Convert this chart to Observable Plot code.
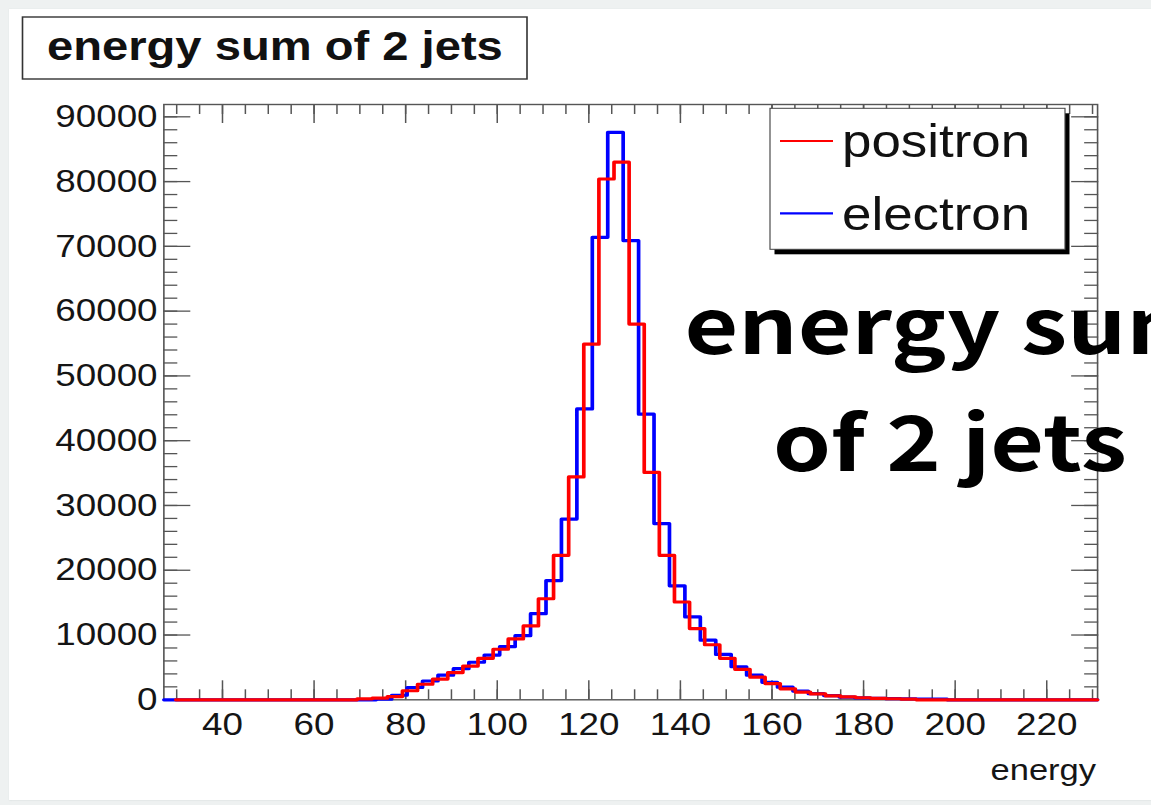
<!DOCTYPE html>
<html>
<head>
<meta charset="utf-8">
<script src="https://cdn.jsdelivr.net/npm/d3@7"></script>
<script src="https://cdn.jsdelivr.net/npm/@observablehq/plot@0.6"></script>
<style>
html, body { margin: 0; padding: 0; width: 1151px; height: 805px; overflow: hidden; background: #eef1f1; }
#panel { position: absolute; left: 9px; top: 9px; width: 1150px; height: 791px; background: #fff; box-shadow: 0 0 1.5px 0.5px #d2d8d8; }
#chart { position: absolute; left: 0; top: 0; }
#overlay { position: absolute; left: 550px; top: 263px; width: 800px; text-align: center; white-space: nowrap;
  font-family: "Noto Sans CJK JP", "Noto Sans", sans-serif; font-weight: 700; font-size: 76px; line-height: 117px; color: #000;
  transform: scaleX(1.22); transform-origin: 50% 0; }
</style>
</head>
<body>
<div id="panel"></div>
<div id="chart"></div>
<div id="overlay">energy sum<br>of 2 jets</div>
<script>
// ---------------- data ----------------
const titleText = "energy sum of 2 jets";
const xLabel = "energy";
const seriesNames = ["positron", "electron"];
const seriesColors = ["#ff0000", "#0000ff"];

// positron histogram: first bin low edge, bin width, bin contents
const positronStart = 29.8;
const positronWidth = 3.3;
const positronCounts = [
  0, 0, 0, 0, 0, 0, 0, 0, 0, 0, 0, 0,
  150, 250, 500, 1400, 2400, 3200, 4200, 5200, 6400, 7800, 9400, 11400,
  15600, 22300, 34400, 54900, 80400, 83000, 58000, 35100, 22300, 15100, 11000, 8500,
  6400, 4700, 3500, 2500, 1700, 1200, 900, 600, 450, 320, 220, 160, 100,
  0, 0, 0, 0, 0, 0, 0, 0, 0, 0, 0, 0
];

// electron histogram
const electronStart = 26.4;
const electronWidth = 3.37;
const electronCounts = [
  0, 0, 0, 0, 0, 0, 0, 0, 0, 0, 0, 0, 0, 0,
  100, 700, 1900, 2900, 3800, 4800, 5800, 6900, 8200, 9900, 13300, 18400,
  27900, 44900, 71400, 87600, 70900, 44100, 27200, 17600, 12800, 9200, 7000, 5100,
  3800, 2700, 1950, 1350, 950, 650, 420, 300, 230, 180, 140, 110, 90,
  0, 0, 0, 0, 0, 0, 0, 0, 0, 0
];

const xTicks = [40, 60, 80, 100, 120, 140, 160, 180, 200, 220];
const xMinorTicks = d3.range(30, 231, 5);
const yTicks = [0, 10000, 20000, 30000, 40000, 50000, 60000, 70000, 80000, 90000];
const yMinorTicks = d3.range(0, 90001, 2000);
const xDomain = [27.2, 231.1];
const yDomain = [0, 91900];

// ---------------- layout ----------------
const W = 1151, H = 805;
const S = 1.15;            // the original picture is stretched horizontally
const VW = W / S;
const frameL = 163.3, frameR = 1097, frameT = 104, frameB = 699.3;

function outline(start, width, counts) {
  const pts = counts.map((c, i) => ({x: start + i * width, y: c}));
  pts.push({x: start + counts.length * width, y: counts[counts.length - 1]});
  return pts;
}

const tickStyle = {fill: "none", stroke: "#555", strokeWidth: 1.3, label: null};

const fig = Plot.plot({
  width: VW,
  height: H,
  marginLeft: frameL / S,
  marginRight: (W - frameR) / S,
  marginTop: frameT,
  marginBottom: H - frameB,
  x: {domain: xDomain, clamp: true},
  y: {domain: yDomain},
  style: {fontFamily: "'Liberation Sans', Arial, Helvetica, sans-serif", background: "transparent", overflow: "visible", color: "#151515"},
  marks: [
    Plot.frame({stroke: "#555", strokeWidth: 1.4}),
    Plot.axisX(xMinorTicks, {anchor: "bottom", tickSize: -10, ...tickStyle}),
    Plot.axisX(xTicks, {anchor: "bottom", tickSize: -19, ...tickStyle}),
    Plot.axisX(xMinorTicks, {anchor: "top", tickSize: -9, ...tickStyle}),
    Plot.axisX(xTicks, {anchor: "top", tickSize: -18, ...tickStyle}),
    Plot.axisY(yMinorTicks, {anchor: "left", tickSize: -14 / S, ...tickStyle}),
    Plot.axisY(yTicks, {anchor: "left", tickSize: -27 / S, ...tickStyle}),
    Plot.axisY(yMinorTicks, {anchor: "right", tickSize: -14 / S, ...tickStyle}),
    Plot.axisY(yTicks, {anchor: "right", tickSize: -27 / S, ...tickStyle}),
    Plot.axisX(xTicks, {anchor: "bottom", tickSize: 0, tickPadding: 12, fontSize: 32, tickFormat: d => String(d), label: null}),
    Plot.axisY(yTicks, {anchor: "left", tickSize: 0, tickPadding: 6.3 / S, fontSize: 32, tickFormat: d => String(d), label: null}),
    Plot.line(outline(electronStart, electronWidth, electronCounts), {x: "x", y: "y", curve: "step-after", stroke: seriesColors[1], strokeWidth: 3.2}),
    Plot.line(outline(positronStart, positronWidth, positronCounts), {x: "x", y: "y", curve: "step-after", stroke: seriesColors[0], strokeWidth: 3.2})
  ]
});

fig.setAttribute("width", W);
fig.setAttribute("height", H);
fig.setAttribute("preserveAspectRatio", "none");
fig.style.width = W + "px";
fig.style.height = H + "px";
fig.style.maxWidth = "none";

const svg = d3.select(fig);
const sx = v => v / S;

// title box
const tg = svg.append("g").attr("class", "title-box").attr("text-anchor", "start");
tg.append("rect").attr("x", sx(22.5)).attr("y", 17).attr("width", sx(527 - 22.5)).attr("height", 62)
  .attr("fill", "#fff").attr("stroke", "#333").attr("stroke-width", 1.4);
tg.append("text").attr("x", sx(47)).attr("y", 60).attr("font-size", 41).attr("font-weight", "bold")
  .attr("fill", "#111").attr("text-anchor", "start").text(titleText);

// axis title
svg.append("text").attr("x", sx(1096)).attr("y", 780).attr("text-anchor", "end").attr("font-size", 30)
  .attr("fill", "#151515").text(xLabel);

// legend
const lg = svg.append("g").attr("class", "legend").attr("text-anchor", "start");
const boxX = 770, boxY = 108.3, boxW = 295, boxH = 141;
lg.append("rect").attr("x", sx(boxX + 4.5)).attr("y", boxY + 5).attr("width", sx(boxW)).attr("height", boxH).attr("fill", "#000");
lg.append("rect").attr("x", sx(boxX)).attr("y", boxY).attr("width", sx(boxW)).attr("height", boxH)
  .attr("fill", "#fff").attr("stroke", "#444").attr("stroke-width", 1);
const rowY = [141, 213.3];
seriesNames.forEach((name, i) => {
  lg.append("line").attr("x1", sx(780)).attr("x2", sx(833)).attr("y1", rowY[i]).attr("y2", rowY[i])
    .attr("stroke", seriesColors[i]).attr("stroke-width", 2.2);
  lg.append("text").attr("x", sx(842)).attr("y", rowY[i] + 16.5).attr("font-size", 46)
    .attr("fill", "#111").attr("text-anchor", "start").text(name);
});

document.getElementById("chart").appendChild(fig);
</script>
</body>
</html>
